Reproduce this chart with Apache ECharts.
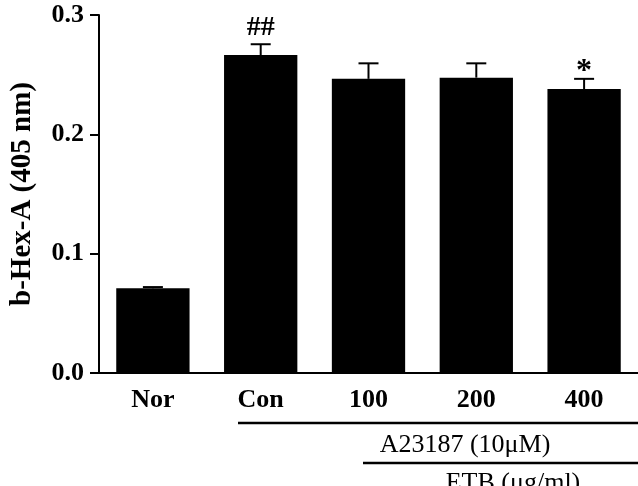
<!DOCTYPE html>
<html>
<head>
<meta charset="utf-8">
<script src="https://cdn.jsdelivr.net/npm/echarts@6/dist/echarts.min.js"></script>
<style>
  html, body { margin: 0; padding: 0; background: #fff; }
  #chart { width: 638px; height: 486px; }
</style>
</head>
<body>
<div id="chart"></div>
<script>
var categories = ['Nor', 'Con', '100', '200', '400'];
var values = [0.071, 0.2665, 0.2465, 0.2475, 0.238];
var errors = [0.001, 0.009, 0.013, 0.012, 0.0085];
var marks = ['', '##', '', '', '*'];
var yTicks = [0, 0.1, 0.2, 0.3];

var serif = '"Liberation Serif", "Times New Roman", serif';
var chart = echarts.init(document.getElementById('chart'));

var errData = values.map(function (v, i) { return [i, v, v + errors[i], marks[i]]; });

var option = {
    animation: false,
    grid: { left: 96, right: 0, top: 15, bottom: 113, containLabel: false },
    xAxis: {
        type: 'category',
        data: categories,
        axisLine: { lineStyle: { color: '#000', width: 2 } },
        axisTick: { alignWithLabel: true, length: 8, lineStyle: { color: '#000', width: 2 } },
        axisLabel: { color: '#000', fontFamily: serif, fontWeight: 'bold', fontSize: 26, margin: 14 }
    },
    yAxis: {
        type: 'value',
        min: 0, max: 0.3, interval: 0.1,
        name: 'b-Hex-A (405 nm)',
        nameLocation: 'middle',
        nameGap: 62,
        nameTextStyle: { color: '#000', fontFamily: serif, fontWeight: 'bold', fontSize: 29 },
        splitLine: { show: false },
        axisLine: { show: true, lineStyle: { color: '#000', width: 2 } },
        axisTick: { show: true, length: 9, lineStyle: { color: '#000', width: 2 } },
        axisLabel: {
            color: '#000', fontFamily: serif, fontWeight: 'bold', fontSize: 26, margin: 15,
            formatter: function (v) { return v.toFixed(1); }
        }
    },
    series: [
        {
            type: 'bar',
            data: values,
            barWidth: '68%',
            itemStyle: { color: '#000' }
        },
        {
            type: 'custom',
            data: errData,
            z: 3,
            renderItem: function (params, api) {
                var base = api.coord([api.value(0), api.value(1)]);
                var top = api.coord([api.value(0), api.value(2)]);
                var half = 10;
                var label = marks[params.dataIndex];
                var kids = [
                    { type: 'line', shape: { x1: base[0], y1: base[1], x2: top[0], y2: top[1] },
                      style: { stroke: '#000', lineWidth: 2 } },
                    { type: 'line', shape: { x1: top[0] - half, y1: top[1], x2: top[0] + half, y2: top[1] },
                      style: { stroke: '#000', lineWidth: 2 } }
                ];
                if (label) {
                    var star = label === '*';
                    kids.push({ type: 'text', style: {
                        x: top[0], y: top[1] + (star ? 9 : -2), text: label,
                        fill: '#000', font: (star ? 'bold 32px ' : 'bold 28px ') + serif,
                        align: 'center', verticalAlign: 'bottom'
                    } });
                }
                return { type: 'group', children: kids };
            }
        }
    ],
    graphic: [
        { type: 'line', shape: { x1: 238, y1: 423, x2: 638, y2: 423 }, style: { stroke: '#000', lineWidth: 2.5 } },
        { type: 'text', x: 465, y: 445, style: { text: 'A23187 (10μM)', fill: '#000', font: '26px ' + serif, align: 'center', verticalAlign: 'middle' } },
        { type: 'line', shape: { x1: 363, y1: 463, x2: 638, y2: 463 }, style: { stroke: '#000', lineWidth: 2.5 } },
        { type: 'text', x: 513, y: 483, style: { text: 'ETB (μg/ml)', fill: '#000', font: '26px ' + serif, align: 'center', verticalAlign: 'middle' } }
    ]
};

chart.setOption(option);
</script>
</body>
</html>
